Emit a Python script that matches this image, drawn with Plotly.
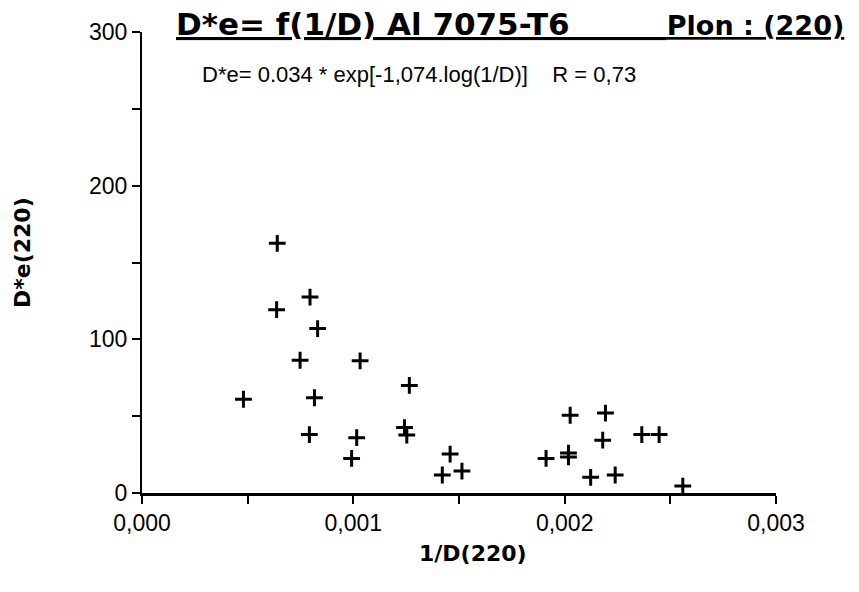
import plotly.graph_objects as go

inv_d = [0.000480, 0.000640, 0.000637, 0.000795, 0.000831, 0.000748, 0.001032, 0.001265,
         0.000816, 0.000792, 0.001016, 0.001242, 0.001253, 0.000992, 0.001421, 0.001458,
         0.001514, 0.001912, 0.002026, 0.002018, 0.002018, 0.002193, 0.002180, 0.002123,
         0.002239, 0.002365, 0.002447, 0.002559]
de_220 = [61, 162.5, 119.3, 127.5, 107, 86.4, 86, 70,
          62, 38, 36, 42.6, 37.7, 22.5, 11.7, 25.3,
          14.3, 22.5, 50.6, 23.5, 26, 52, 34.4, 10.2,
          11.7, 38, 38, 4.5]

title_left = "D*e= f(1/D) Al 7075-T6"
title_right = "Plon : (220)"
equation_text = "D*e= 0.034 * exp[-1,074.log(1/D)]&nbsp;&nbsp;&nbsp;&nbsp;R = 0,73"
x_title = "1/D(220)"
y_title = "D*e(220)"

FONT = "Liberation Sans, Arial, sans-serif"
BOLD = "DejaVu Sans, sans-serif"

OFF = 8  # page body margin offset
W, H = 859 - OFF, 592 - OFF
L, T = 142 - OFF, 32 - OFF
R = 859 - 776
B = 592 - 493
pw = W - L - R
ph = H - T - B


def px_x(px):
    return (px - OFF - L) / pw


def px_y(py):
    return 1 - (py - OFF - T) / ph


title_html = ("<b><u>" + title_left + "&nbsp;" * 9 +
              "<span style='font-size:27px'>" + title_right + "</span></u></b>")

fig = go.Figure()
fig.add_trace(go.Scatter(
    x=inv_d, y=de_220, mode="markers",
    marker=dict(symbol="cross-thin", size=12, line=dict(width=3, color="black")),
    showlegend=False, cliponaxis=False,
))

fig.update_layout(
    width=W, height=H,
    margin=dict(l=L, r=R, t=T, b=B, autoexpand=False),
    paper_bgcolor="white", plot_bgcolor="white",
    separators=", ",
    font=dict(family=FONT, color="black", size=23),
    xaxis=dict(
        range=[0, 0.003], tickvals=[0, 0.001, 0.002, 0.003], tickformat=".3f",
        showgrid=False, zeroline=False, showline=True, linecolor="black", linewidth=2.5,
        ticks="outside", ticklen=8, tickwidth=2, tickcolor="black",
        minor=dict(dtick=0.0005, tick0=0, ticks="outside", ticklen=8, tickwidth=2, tickcolor="black", showgrid=False),
        tickfont=dict(size=23),
    ),
    yaxis=dict(
        range=[0, 300], tickvals=[0, 100, 200, 300],
        showgrid=False, zeroline=False, showline=True, linecolor="black", linewidth=2,
        ticks="outside", ticklen=8, tickwidth=2, tickcolor="black",
        minor=dict(dtick=50, tick0=0, ticks="outside", ticklen=8, tickwidth=2, tickcolor="black", showgrid=False),
        tickfont=dict(size=23),
    ),
    annotations=[
        dict(text=title_html, xref="paper", yref="paper",
             x=px_x(846), y=px_y(24), xanchor="right", yanchor="middle",
             showarrow=False, font=dict(size=31, family=BOLD)),
        dict(text=equation_text, xref="paper", yref="paper",
             x=px_x(200), y=px_y(74), xanchor="left", yanchor="middle",
             showarrow=False, font=dict(size=22)),
        dict(text="<b>" + x_title + "</b>", xref="paper", yref="paper",
             x=px_x(473), y=px_y(553), xanchor="center", yanchor="middle",
             showarrow=False, font=dict(size=22, family=BOLD)),
        dict(text="<b>" + y_title + "</b>", xref="paper", yref="paper", textangle=-90,
             x=px_x(23), y=px_y(253), xanchor="center", yanchor="middle",
             showarrow=False, font=dict(size=22, family=BOLD)),
    ],
)

fig.write_html("out.html")
